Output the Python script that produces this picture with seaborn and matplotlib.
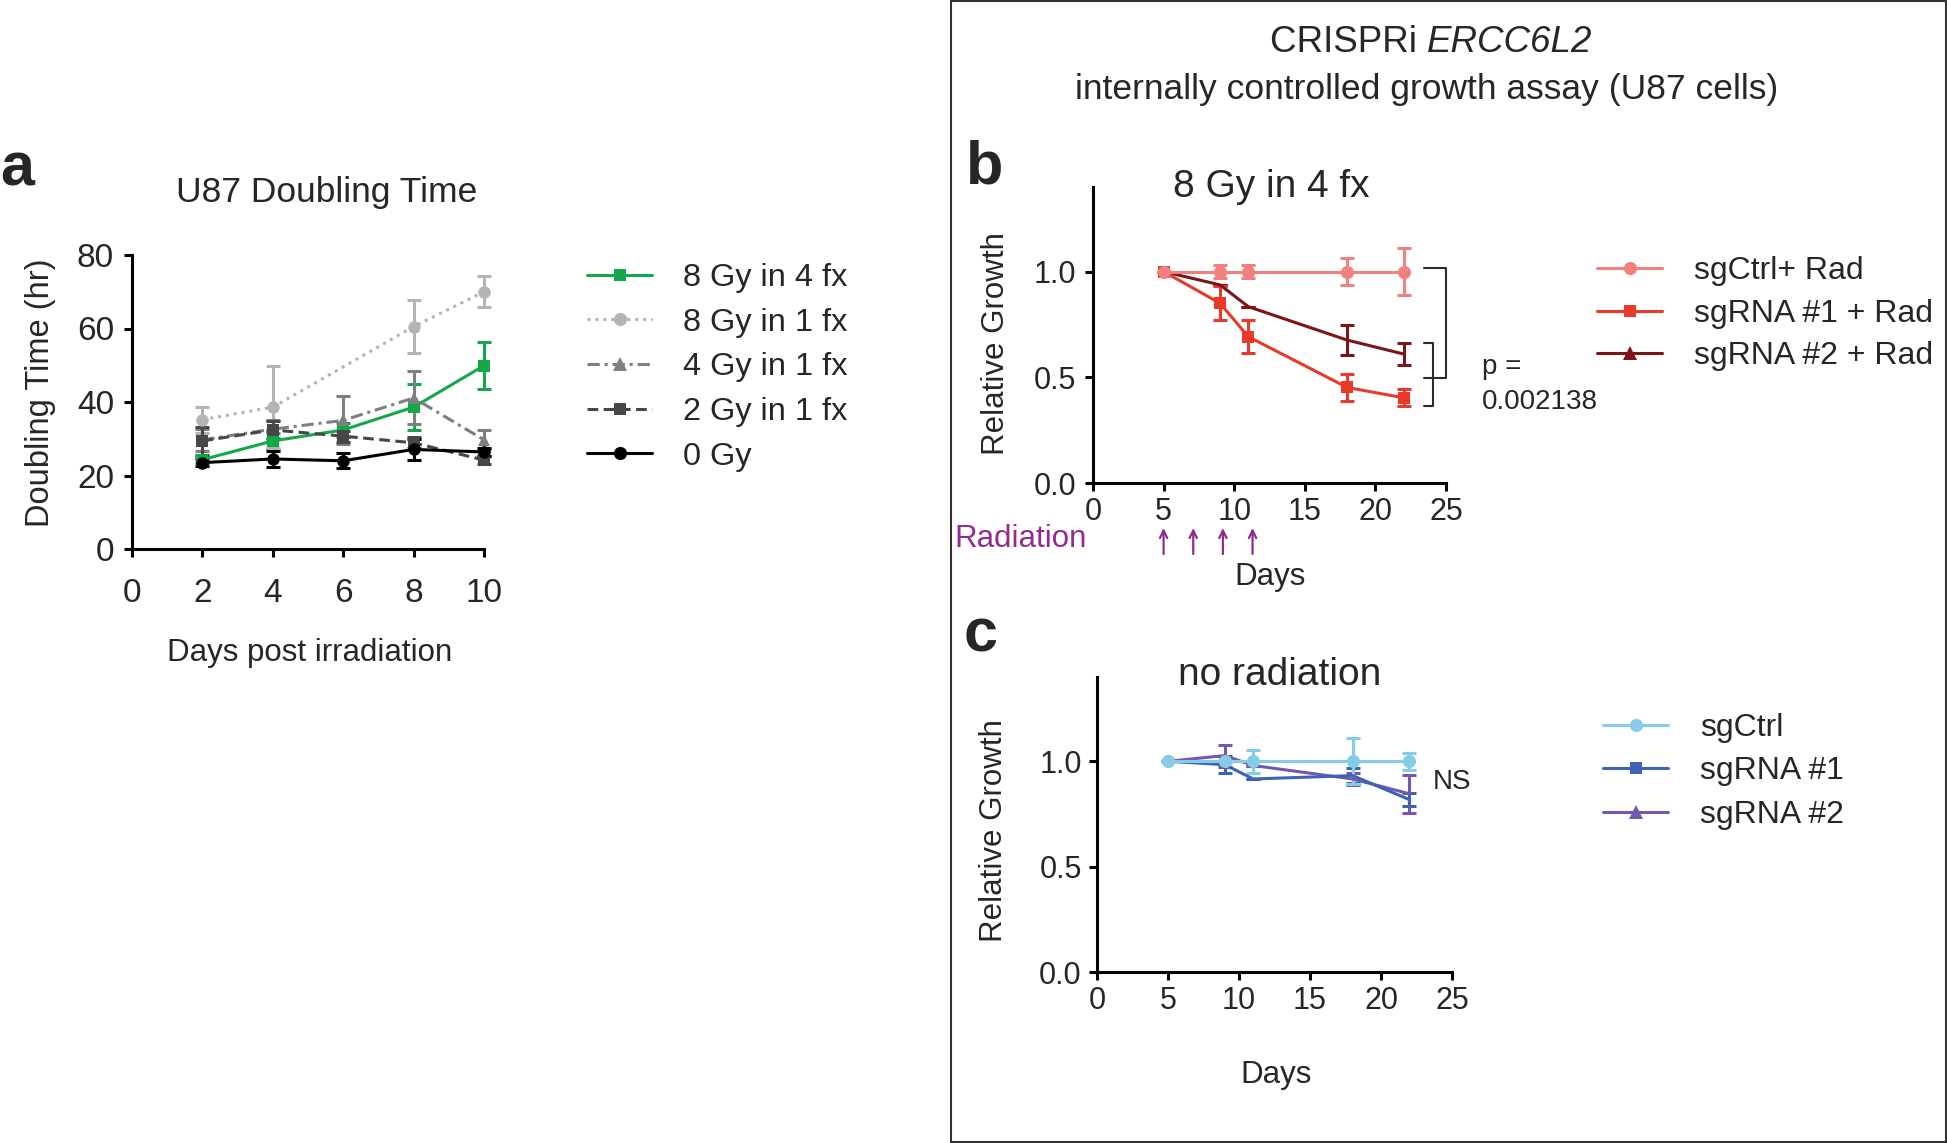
import numpy as np
import pandas as pd
import seaborn as sns
import matplotlib
matplotlib.use("Agg")
import matplotlib.pyplot as plt
from matplotlib.lines import Line2D
from matplotlib.patches import Rectangle

# ---------------- data ----------------
# Panel a: U87 doubling time (hr) vs days post irradiation
A_DAYS = [2, 4, 6, 8, 10]
A_8GY_4FX = [24.3, 29.4, 32.4, 38.6, 49.9]
A_8GY_4FX_ERR = [1.0, 2.1, 2.0, 6.3, 6.4]
A_8GY_1FX_DAYS = [2, 4, 8, 10]
A_8GY_1FX = [35.2, 38.6, 60.5, 70.0]
A_8GY_1FX_ERR = [3.5, 11.2, 7.2, 4.2]
A_4GY_1FX = [29.7, 32.6, 35.0, 41.1, 29.7]
A_4GY_1FX_ERR = [3.0, 2.5, 6.5, 7.2, 2.7]
A_2GY_1FX = [29.4, 32.4, 30.7, 28.9, 24.2]
A_2GY_1FX_ERR = [3.8, 2.5, 1.5, 1.5, 1.0]
A_0GY = [23.5, 24.5, 24.0, 27.1, 26.4]
A_0GY_ERR = [1.0, 2.2, 2.0, 2.9, 1.0]
A_LABELS = ["8 Gy in 4 fx", "8 Gy in 1 fx", "4 Gy in 1 fx", "2 Gy in 1 fx", "0 Gy"]

# Panel b: 8 Gy in 4 fx, relative growth
GROWTH_DAYS = [5, 9, 11, 18, 22]
B_CTRL = [1.0, 1.0, 1.0, 1.0, 1.0]
B_CTRL_ERR = [0.0, 0.03, 0.03, 0.065, 0.11]
B_SG1 = [1.0, 0.85, 0.692, 0.452, 0.403]
B_SG1_ERR = [0.0, 0.08, 0.077, 0.063, 0.04]
B_SG2 = [1.0, 0.937, 0.834, 0.676, 0.61]
B_SG2_ERR = [0.0, 0.0, 0.0, 0.071, 0.05]
B_LABELS = ["sgCtrl+ Rad", "sgRNA #1 + Rad", "sgRNA #2 + Rad"]
RADIATION_DAYS = [5, 7.1, 9.2, 11.3]
P_VALUE = "0.002138"

# Panel c: no radiation
C_CTRL = [1.0, 1.0, 1.0, 1.0, 1.0]
C_CTRL_ERR = [0.0, 0.01, 0.055, 0.11, 0.04]
C_SG1 = [1.0, 0.984, 0.916, 0.932, 0.818]
C_SG1_ERR = [0.0, 0.04, 0.0, 0.035, 0.03]
C_SG2 = [1.0, 1.027, 0.98, 0.916, 0.846]
C_SG2_ERR = [0.0, 0.052, 0.0, 0.03, 0.09]
C_LABELS = ["sgCtrl", "sgRNA #1", "sgRNA #2"]

# ---------------- style ----------------
sns.set_theme(style="ticks")
plt.rcParams["font.family"] = ["Liberation Sans", "DejaVu Sans"]

W, H = 1947, 1143
fig = plt.figure(figsize=(W / 100, H / 100), dpi=100)
fig.patch.set_facecolor("white")

LABEL_FS = 22.5
LEG_FS = 23
LW = 2.2

GREEN = "#14a84b"
LGRAY = "#b4b4b4"
MGRAY = "#7f7f7f"
DGRAY = "#474747"
SALMON = "#f2807c"
RED = "#e8392b"
DRED = "#7a1518"
LBLUE = "#86cbe8"
BLUE = "#3f62b5"
PURPLE = "#7458ad"
RADPURPLE = "#922b8f"


def px_axes(l, r, b, t):
    return fig.add_axes([l / W, 1 - b / H, (r - l) / W, (b - t) / H])


def style_axes(ax, xpad, ypad, tick_fs):
    sns.despine(ax=ax)
    for s in ("left", "bottom"):
        ax.spines[s].set_linewidth(LW)
        ax.spines[s].set_color("black")
    ax.tick_params(axis="both", width=LW, length=6, color="black",
                   labelsize=tick_fs, direction="out")
    ax.tick_params(axis="x", pad=xpad)
    ax.tick_params(axis="y", pad=ypad)
    ax.set_facecolor("white")
    ax.grid(False)


def series(ax, x, y, err, color, marker, ms, ls="-", show_marker=True):
    ax.errorbar(x, y, yerr=err, fmt="none", ecolor=color, elinewidth=LW,
                capsize=5, capthick=LW, clip_on=False, zorder=2)
    sns.lineplot(x=x, y=y, ax=ax, color=color, linewidth=LW, linestyle=ls,
                 marker=marker if show_marker else None, markersize=ms,
                 markeredgewidth=0, markeredgecolor=color, errorbar=None,
                 sort=False, legend=False, clip_on=False, zorder=3)


def handle(color, marker, ms, ls="-"):
    return Line2D([], [], color=color, lw=LW, linestyle=ls, marker=marker,
                  markersize=ms, markeredgewidth=0)


# ---------------- panel a ----------------
ax_a = px_axes(132, 484, 549, 255)
DOT = (0, (1.0, 1.6))
DASHDOT = (0, (4.0, 1.6, 1.0, 1.6))
DASH = (0, (3.5, 1.8))
series(ax_a, A_DAYS, A_8GY_4FX, A_8GY_4FX_ERR, GREEN, "s", 8)
series(ax_a, A_8GY_1FX_DAYS, A_8GY_1FX, A_8GY_1FX_ERR, LGRAY, "o", 9, DOT)
series(ax_a, A_DAYS, A_4GY_1FX, A_4GY_1FX_ERR, MGRAY, "^", 9, DASHDOT)
series(ax_a, A_DAYS, A_2GY_1FX, A_2GY_1FX_ERR, DGRAY, "s", 8, DASH)
series(ax_a, A_DAYS, A_0GY, A_0GY_ERR, "black", "o", 9)
ax_a.set_xlim(0, 10)
ax_a.set_ylim(0, 80)
ax_a.set_xticks(range(0, 11, 2))
ax_a.set_yticks(range(0, 81, 20))
style_axes(ax_a, xpad=15, ypad=7, tick_fs=24)
ax_a.set_xlabel("Days post irradiation", fontsize=22.5)
ax_a.set_ylabel("Doubling Time (hr)", fontsize=23.5)
ax_a.xaxis.set_label_coords(0.506, -0.303)
ax_a.yaxis.set_label_coords(-0.216, 0.53)
ax_a.text(0.553, 1.18, "U87 Doubling Time", transform=ax_a.transAxes,
          ha="center", va="baseline", fontsize=25.5)
LEG_A_FS = 23.4
ax_a.legend(handles=[handle(GREEN, "s", 8.5), handle(LGRAY, "o", 9.5, DOT),
                     handle(MGRAY, "^", 9.5, DASHDOT), handle(DGRAY, "s", 8.5, DASH),
                     handle("black", "o", 9.5)],
            labels=A_LABELS, loc="upper left",
            bbox_to_anchor=(587 / W, 1 - 263 / H), bbox_transform=fig.transFigure,
            frameon=False, fontsize=LEG_A_FS, handlelength=2.0, handletextpad=0.95,
            labelspacing=0.45, borderpad=0, borderaxespad=0)

# ---------------- panel b ----------------
ax_b = px_axes(1093, 1446, 483, 187)
series(ax_b, GROWTH_DAYS, B_SG2, B_SG2_ERR, DRED, "^", 9, show_marker=False)
series(ax_b, GROWTH_DAYS, B_SG1, B_SG1_ERR, RED, "s", 9)
series(ax_b, GROWTH_DAYS, B_CTRL, B_CTRL_ERR, SALMON, "o", 9.5)
ax_b.set_xlim(0, 25)
ax_b.set_ylim(0, 1.4)
ax_b.set_xticks(range(0, 26, 5))
ax_b.set_yticks([0.0, 0.5, 1.0])
ax_b.set_yticklabels(["0.0", "0.5", "1.0"])
style_axes(ax_b, xpad=4, ypad=6, tick_fs=22)
ax_b.set_xlabel("Days", fontsize=LABEL_FS)
ax_b.set_ylabel("Relative Growth", fontsize=LABEL_FS)
ax_b.xaxis.set_label_coords(0.501, -0.267)
ax_b.yaxis.set_label_coords(-0.232, 0.472)
ax_b.text(0.504, 0.967, "8 Gy in 4 fx", transform=ax_b.transAxes,
          ha="center", va="baseline", fontsize=28)
# significance brackets
ax_b.plot([23.45, 24.97, 24.97, 23.45], [1.019, 1.019, 0.498, 0.498],
          color="#2b2b2b", lw=1.5, clip_on=False)
ax_b.plot([23.45, 24.1, 24.1, 23.45], [0.663, 0.663, 0.365, 0.365],
          color="#2b2b2b", lw=1.5, clip_on=False)
fig.text(1482 / W, 1 - 367 / H, "p =", fontsize=20, va="center", ha="left")
fig.text(1482 / W, 1 - 402 / H, P_VALUE, fontsize=20, va="center", ha="left")
# radiation arrows
xt = ax_b.get_xaxis_transform()
for d in RADIATION_DAYS:
    ax_b.annotate("", xy=(d, (483 - 528) / 296), xytext=(d, (483 - 554) / 296),
                  xycoords=xt, textcoords=xt, annotation_clip=False,
                  arrowprops=dict(arrowstyle="->,head_length=0.45,head_width=0.22",
                                  color=RADPURPLE, lw=1.6, shrinkA=0, shrinkB=0))
fig.text(954 / W, 1 - 539 / H, "Radiation", fontsize=22.5, color=RADPURPLE,
         va="center", ha="left")
ax_b.legend(handles=[handle(SALMON, "o", 9.5), handle(RED, "s", 9), handle(DRED, "^", 9.5)],
            labels=B_LABELS, loc="upper left",
            bbox_to_anchor=(1597 / W, 1 - 256.5 / H), bbox_transform=fig.transFigure,
            frameon=False, fontsize=LEG_FS, handlelength=2.05, handletextpad=1.0,
            labelspacing=0.39, borderpad=0, borderaxespad=0)

# ---------------- panel c ----------------
ax_c = px_axes(1097, 1452, 972, 677)
series(ax_c, GROWTH_DAYS, C_SG2, C_SG2_ERR, PURPLE, "^", 9, show_marker=False)
series(ax_c, GROWTH_DAYS, C_SG1, C_SG1_ERR, BLUE, "s", 9, show_marker=False)
series(ax_c, GROWTH_DAYS, C_CTRL, C_CTRL_ERR, LBLUE, "o", 9.5)
ax_c.set_xlim(0, 25)
ax_c.set_ylim(0, 1.4)
ax_c.set_xticks(range(0, 26, 5))
ax_c.set_yticks([0.0, 0.5, 1.0])
ax_c.set_yticklabels(["0.0", "0.5", "1.0"])
style_axes(ax_c, xpad=4, ypad=5, tick_fs=22)
ax_c.set_xlabel("Days", fontsize=LABEL_FS)
ax_c.set_ylabel("Relative Growth", fontsize=LABEL_FS)
ax_c.xaxis.set_label_coords(0.503, -0.298)
ax_c.yaxis.set_label_coords(-0.248, 0.479)
ax_c.text(0.514, 0.973, "no radiation", transform=ax_c.transAxes,
          ha="center", va="baseline", fontsize=28)
fig.text(1433 / W, 1 - 782 / H, "NS", fontsize=20, va="center", ha="left")
ax_c.legend(handles=[handle(LBLUE, "o", 9.5), handle(BLUE, "s", 9), handle(PURPLE, "^", 9.5)],
            labels=C_LABELS, loc="upper left",
            bbox_to_anchor=(1603 / W, 1 - 713 / H), bbox_transform=fig.transFigure,
            frameon=False, fontsize=LEG_FS, handlelength=2.05, handletextpad=1.0,
            labelspacing=0.42, borderpad=0, borderaxespad=0)

# ---------------- figure annotations ----------------
fig.patches.append(Rectangle((951 / W, 1 - 1142 / H), (1946 - 951) / W, (1142 - 1) / H,
                             transform=fig.transFigure, fill=False,
                             edgecolor="#333333", lw=1.5))
# header line 1: "CRISPRi " upright + "ERCC6L2" italic, centred as a whole
HDR_FS = 26.5
t1 = fig.text(0, 1 - 42 / H, "CRISPRi ", fontsize=HDR_FS, ha="left", va="center")
t2 = fig.text(0, 1 - 42 / H, "ERCC6L2", fontsize=HDR_FS, style="italic",
              ha="left", va="center")
renderer = fig.canvas.get_renderer()
w1 = t1.get_window_extent(renderer).width
w2 = t2.get_window_extent(renderer).width
x_start = 1431 - (w1 + w2) / 2
t1.set_x(x_start / W)
t2.set_x((x_start + w1) / W)
fig.text(1427 / W, 1 - 89 / H, "internally controlled growth assay (U87 cells)",
         fontsize=25.5, ha="center", va="center")
fig.text(0 / W, 1 - 185 / H, "a", fontsize=44, fontweight="bold", ha="left", va="baseline")
fig.text(966 / W, 1 - 184 / H, "b", fontsize=44, fontweight="bold", ha="left", va="baseline")
fig.text(964 / W, 1 - 651 / H, "c", fontsize=44, fontweight="bold", ha="left", va="baseline")

fig.savefig("out.png", dpi=100, facecolor="white")
